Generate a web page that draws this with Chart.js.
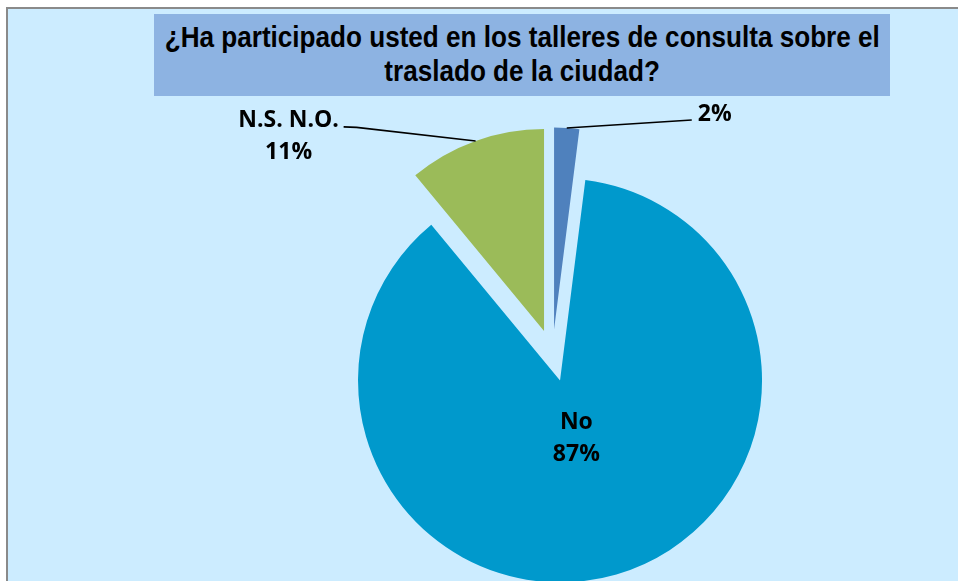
<!DOCTYPE html>
<html>
<head>
<meta charset="utf-8">
<script src="https://cdn.jsdelivr.net/npm/chart.js@4/dist/chart.umd.min.js"></script>
<style>
    body { margin: 0; background: #ffffff; }
    #wrap { position: relative; width: 958px; height: 581px; overflow: hidden; }
    #frame {
        position: absolute; left: 6px; top: 7px; right: 0; bottom: 0;
        background: #CCECFF;
        border-left: 2px solid #8a8a8a;
        border-top: 2px solid #8a8a8a;
    }
    #title {
        position: absolute; left: 154px; top: 14px; width: 736px; height: 82px;
        background: #8DB3E2;
        font-family: "Liberation Sans", Arial, sans-serif;
        font-weight: bold; font-size: 29px; line-height: 34px;
        color: #000;
        padding-top: 6px; box-sizing: border-box;
    }
    #title div { display: flex; justify-content: center; }
    #title span { display: inline-block; white-space: nowrap; flex-shrink: 0; transform: scaleX(0.9); transform-origin: center; }
    #myChart { position: absolute; left: 0; top: 0; }
</style>
</head>
<body>
<div id="wrap">
    <div id="frame"></div>
    <div id="title">
        <div><span>¿Ha participado usted en los talleres de consulta sobre el</span></div>
        <div><span>traslado de la ciudad?</span></div>
    </div>
    <canvas id="myChart" width="958" height="581"></canvas>
</div>
<script>
//Daten
const categories = ['Sí', 'No', 'N.S. N.O.'];
const percents = [2, 87, 11];
const showCategory = [false, true, true];

//Farben und Abstand der Stücke
const sliceColors = ['#4F81BD', '#0099CC', '#9BBB59'];
const explode = [25, 27, 25];

//Position der Beschriftung relativ zum äußeren Rand des Stücks
const labelPlace = [
    { line: [[125, -8]], text: [131, -7], align: 'left' },
    { inside: 0.29 },
    { line: [[-119, -13.5], [-132, -14]], text: [-187, -14], align: 'center' }
];

//Stücke nach außen schieben
const explodePlugin = {
    id: 'explode',
    afterDatasetUpdate(chart, args) {
        args.meta.data.forEach((arc, i) => {
            let mid = (arc.startAngle + arc.endAngle) / 2
            arc.x += Math.cos(mid) * explode[i]
            arc.y += Math.sin(mid) * explode[i]
        })
    }
}

//Beschriftungen mit Linien
const labelPlugin = {
    id: 'sliceLabels',
    afterDatasetsDraw(chart) {
        let ctx = chart.ctx
        let arcs = chart.getDatasetMeta(0).data
        ctx.save()
        ctx.font = 'bold 23px "Open Sans"'
        ctx.fillStyle = '#000000'
        ctx.strokeStyle = '#000000'
        ctx.lineWidth = 1.6
        ctx.textBaseline = 'alphabetic'
        arcs.forEach((arc, i) => {
            let mid = (arc.startAngle + arc.endAngle) / 2
            let lines = []
            if (showCategory[i]) lines.push(categories[i])
            lines.push(percents[i] + '%')
            let place = labelPlace[i]

            if (place.inside) {
                let cx = arc.x + Math.cos(mid) * arc.outerRadius * place.inside
                let cy = arc.y + Math.sin(mid) * arc.outerRadius * place.inside
                ctx.textAlign = 'center'
                lines.forEach((t, k) => ctx.fillText(t, cx, cy - 8 + k * 32))
                return
            }
            let ex = arc.x + Math.cos(mid) * arc.outerRadius
            let ey = arc.y + Math.sin(mid) * arc.outerRadius
            ctx.beginPath()
            ctx.moveTo(ex, ey)
            for (let p of place.line) ctx.lineTo(ex + p[0], ey + p[1])
            ctx.stroke()
            ctx.textAlign = place.align
            lines.forEach((t, k) => ctx.fillText(t, ex + place.text[0], ey + place.text[1] + k * 32))
        })
        ctx.restore()
    }
}

const chart = document.getElementById("myChart")
let piechart = new Chart(chart, {
    type: "pie",
    data: {
        labels: categories,
        datasets: [{
            data: percents,
            backgroundColor: sliceColors,
            borderWidth: 0,
            clip: false
        }]
    },
    options: {
        responsive: false,
        animation: false,
        events: [],
        radius: 202,
        layout: {
            padding: { left: 147, right: 0, top: 128, bottom: 0 }
        },
        plugins: {
            legend: { display: false },
            title: { display: false },
            tooltip: { enabled: false }
        }
    },
    plugins: [explodePlugin, labelPlugin]
})
</script>
</body>
</html>
